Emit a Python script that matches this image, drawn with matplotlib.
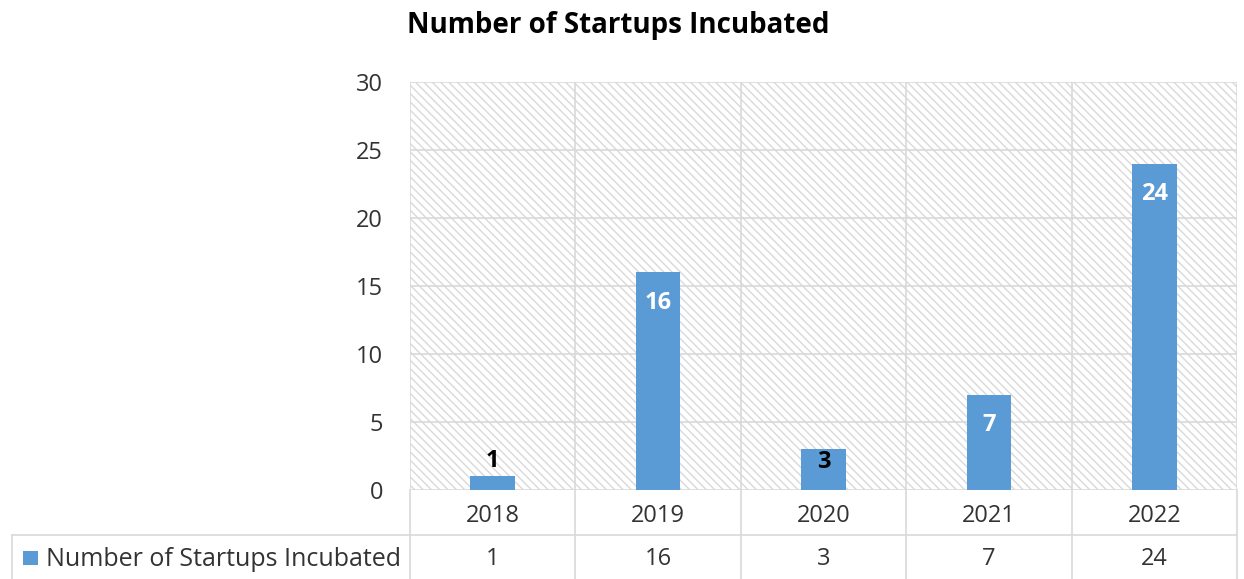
import matplotlib
matplotlib.use('Agg')
from matplotlib import pyplot as plt
from matplotlib.patches import Rectangle
from matplotlib.transforms import blended_transform_factory

years = ['2018', '2019', '2020', '2021', '2022']
startups = [1, 16, 3, 7, 24]
series_name = 'Number of Startups Incubated'
title = 'Number of Startups Incubated'

bar_color = '#5B9BD5'
grid_color = '#d9d9d9'
text_color = '#333333'

plt.rcParams['font.family'] = ['Open Sans', 'DejaVu Sans']
plt.rcParams['hatch.linewidth'] = 1.0

fig = plt.figure(figsize=(12.44, 5.79), dpi=100)
W, H = 1244, 579
left, right, top, bottom = 410, 1237, 82, 490
ax = fig.add_axes([left / W, 1 - bottom / H, (right - left) / W, (bottom - top) / H])

# hatched background of the plot area
ax.add_patch(Rectangle((0, 0), 1, 1, transform=ax.transAxes, facecolor='white',
                       edgecolor=grid_color, hatch='\\\\\\\\', linewidth=0, zorder=0))

x = range(len(years))
bars = ax.bar(x, startups, width=0.27, color=bar_color, zorder=3)

ax.set_xlim(-0.5, len(years) - 0.5)
ax.set_ylim(0, 30)
ax.set_yticks(range(0, 31, 5))
ax.set_xticks([])
for y in range(0, 31, 5):
    ax.axhline(y, color=grid_color, linewidth=1.2, zorder=1)
for b in range(len(years) + 1):
    ax.axvline(b - 0.5, color=grid_color, linewidth=1.2, zorder=1)
for s in ax.spines.values():
    s.set_visible(False)
ax.tick_params(axis='y', length=0, pad=19.5, labelsize=17, labelcolor=text_color)

# data labels
for xi, v in zip(x, startups):
    if v >= 5:
        ax.annotate(str(v), (xi, v), xytext=(0, -22), textcoords='offset points',
                    ha='center', va='center', color='white', fontsize=17, fontweight='bold', zorder=4)
    elif v == 1:
        ax.annotate(str(v), (xi, v), xytext=(0, 11), textcoords='offset points',
                    ha='center', va='center', color='black', fontsize=17, fontweight='bold', zorder=4)
    else:
        ax.annotate(str(v), (xi, v), xytext=(0, -9), textcoords='offset points',
                    ha='center', va='center', color='black', fontsize=17, fontweight='bold', zorder=4)

fig.text(618 / W, 1 - 25 / H, title, ha='center', va='center', fontsize=20, fontweight='bold', color='black')

# data table under the axis
tr = blended_transform_factory(ax.transData, ax.transAxes)
ph = bottom - top
row1 = -(535 - bottom) / ph
row2 = -(579 - bottom) / ph
for b in range(len(years) + 1):
    ax.plot([b - 0.5, b - 0.5], [0, row2], transform=tr, color=grid_color, linewidth=1.2, clip_on=False)
ax.plot([-0.5, len(years) - 0.5], [row1, row1], transform=tr, color=grid_color, linewidth=1.2, clip_on=False)
fig.add_artist(plt.Line2D([12 / W, left / W], [1 - 535 / H, 1 - 535 / H], color=grid_color, linewidth=1.2))
fig.add_artist(plt.Line2D([12 / W, 12 / W], [1 - 535 / H, 0], color=grid_color, linewidth=1.2))

for xi, yr, v in zip(x, years, startups):
    ax.text(xi, row1 / 2 - 4 / ph, yr, transform=tr, ha='center', va='center', fontsize=17, color=text_color)
    ax.text(xi, (row1 + row2) / 2 - 2 / ph, str(v), transform=tr, ha='center', va='center', fontsize=17, color=text_color)

ymid = 1 - 558 / H
fig.add_artist(Rectangle((23 / W, ymid - 7 / H), 15 / W, 14 / H, transform=fig.transFigure,
                         facecolor=bar_color, edgecolor='none'))
fig.text(46 / W, ymid - 1 / H, series_name, ha='left', va='center', fontsize=18, color=text_color)

fig.savefig('out.png', dpi=100)
